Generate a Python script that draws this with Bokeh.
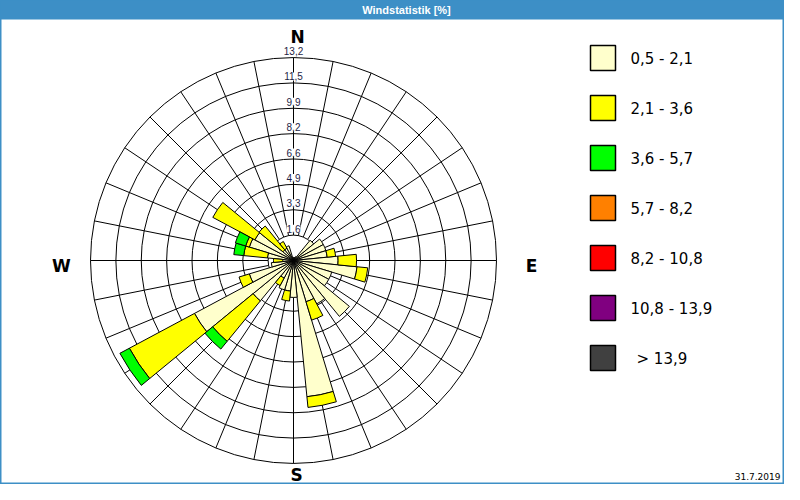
import math
import numpy as np
from bokeh.plotting import figure
from bokeh.models import Range1d, Label, ColumnDataSource
from bokeh.embed import file_html
from bokeh.resources import INLINE
from bokeh.core.properties import value

# ---------------- data ----------------
title = "Windstatistik [%]"
date_text = "31.7.2019"
bearings = [i * 11.25 for i in range(32)]          # 32 direction sectors
classes = ["0,5 - 2,1", "2,1 - 3,6", "3,6 - 5,7", "5,7 - 8,2",
           "8,2 - 10,8", "10,8 - 13,9", "> 13,9"]
colors = ["#FFFFCC", "#FFFF00", "#00FF00", "#FF8000",
          "#FF0000", "#800080", "#404040"]

c1 = [0.2, 0.2, 0.2, 0.3, 1.7, 2.2, 2.2, 2.2,
      2.9, 4.15, 2.6, 2.6, 4.7, 3.2, 2.8, 8.9,
      2.4, 2.0, 2.0, 1.3, 3.4, 7.3, 3.0, 1.45,
      0.7, 1.7, 3.0, 2.85, 0.9, 0.9, 1.0, 0.2]
c2 = [0, 0, 0, 0, 0, 0, 0, 0.55,
      1.2, 0.7, 0, 0, 0, 0, 1.25, 0.7,
      0, 0.65, 0, 0.55, 3.4, 4.8, 0.7, 0,
      0.6, 1.55, 0.25, 3.1, 2.0, 0.5, 0, 0]
c3 = [0, 0, 0, 0, 0, 0, 0, 0,
      0, 0, 0, 0, 0, 0, 0, 0,
      0, 0, 0, 0, 0.65, 0.7, 0, 0,
      0, 0.65, 0.7, 0, 0, 0, 0, 0]
c4 = [0] * 32
c5 = [0] * 32
c6 = [0] * 32
c7 = [0] * 32

ring_radii = [1.65, 3.3, 4.95, 6.6, 8.25, 9.9, 11.55, 13.2]
ring_labels = ["1,6", "3,3", "4,9", "6,6", "8,2", "9,9", "11,5", "13,2"]
compass = ["N", "E", "S", "W"]

# ---------------- layout ----------------
W, H = 784, 484
RMAX = ring_radii[-1]
ppu = 203 / RMAX                       # pixels per percent
cx, cy = 293, 260                      # centre in canvas pixels (y down)

def px(xr, yr):
    """canvas pixel -> data coords"""
    return (xr - cx) / ppu, (cy - yr) / ppu

BLUE = "#3D8FC6"

p = figure(width=W, height=H, output_backend="svg", toolbar_location=None,
           x_range=Range1d(-cx / ppu, (W - cx) / ppu),
           y_range=Range1d(-(H - cy) / ppu, cy / ppu),
           x_axis_location=None, y_axis_location=None, min_border=0)
p.xgrid.visible = False
p.ygrid.visible = False
p.background_fill_color = "white"
p.border_fill_color = "white"
p.outline_line_color = BLUE
p.outline_line_width = 2

# header
hl, ht = px(0, 0)
hr, hb = px(W, 19)
p.quad(left=[hl], right=[hr], top=[ht], bottom=[hb], fill_color=BLUE, line_color=None)
tx, ty = px(406, 9.5)
p.text(x=[tx], y=[ty], text=[title], text_color="white", text_font=value("Liberation Sans"),
       text_font_style="bold", text_font_size=value("11px"),
       text_align="center", text_baseline="middle")

# grid: rings and spokes
p.circle(x=[0] * len(ring_radii), y=[0] * len(ring_radii), radius=ring_radii,
         fill_color=None, line_color="black", line_width=1)
ang = np.radians(90 - np.array(bearings))
r0, r1 = ring_radii[0], RMAX
p.segment(x0=r0 * np.cos(ang), y0=r0 * np.sin(ang), x1=r1 * np.cos(ang), y1=r1 * np.sin(ang),
          line_color="black", line_width=1)

# bars
half = np.radians(11.25 / 2)
inner = np.zeros(32)
for vals, col in zip([c1, c2, c3, c4, c5, c6, c7], colors):
    v = np.array(vals, dtype=float)
    outer = inner + v
    m = v > 0
    if m.any():
        src = ColumnDataSource(dict(ir=inner[m], orr=outer[m],
                                    sa=(ang - half)[m], ea=(ang + half)[m]))
        p.annular_wedge(x=0, y=0, inner_radius="ir", outer_radius="orr",
                        start_angle="sa", end_angle="ea", source=src,
                        fill_color=col, line_color="black", line_width=1)
    inner = outer

# ring labels on north spoke
for r, lab in zip(ring_radii, ring_labels):
    p.add_layout(Label(x=0, y=r + 0.42, text=lab, text_align="center", text_baseline="middle",
                       text_font="Liberation Sans", text_font_size="10px", text_color="#1E1E46",
                       background_fill_color="white"))

# compass letters
comp_pos = [(297, 36), (531, 265), (296, 474), (61, 265)]
for lab, (xr, yr) in zip(compass, comp_pos):
    x, y = px(xr, yr)
    p.text(x=[x], y=[y], text=[lab], text_font=value("DejaVu Sans"), text_font_style="bold",
           text_font_size=value("17px"), text_color="black", text_align="center",
           text_baseline="middle")

# legend
for i, (lab, col) in enumerate(zip(classes, colors)):
    l, t = px(590, 45 + 50 * i)
    r, b = px(615, 70 + 50 * i)
    p.quad(left=[l], right=[r], top=[t], bottom=[b], fill_color=col, line_color="black", line_width=1.5)
    lx, ly = px(636 if lab.startswith(">") else 630, 58 + 50 * i)
    p.text(x=[lx], y=[ly], text=[lab], text_font=value("DejaVu Sans"), text_font_size=value("15px"),
           text_color="black", text_align="left", text_baseline="middle")

# date
dx, dy = px(780, 476)
p.text(x=[dx], y=[dy], text=[date_text], text_font=value("DejaVu Sans"), text_font_size=value("9px"),
       text_color="black", text_align="right", text_baseline="middle")

open("out.html", "w").write(file_html(p, INLINE))
